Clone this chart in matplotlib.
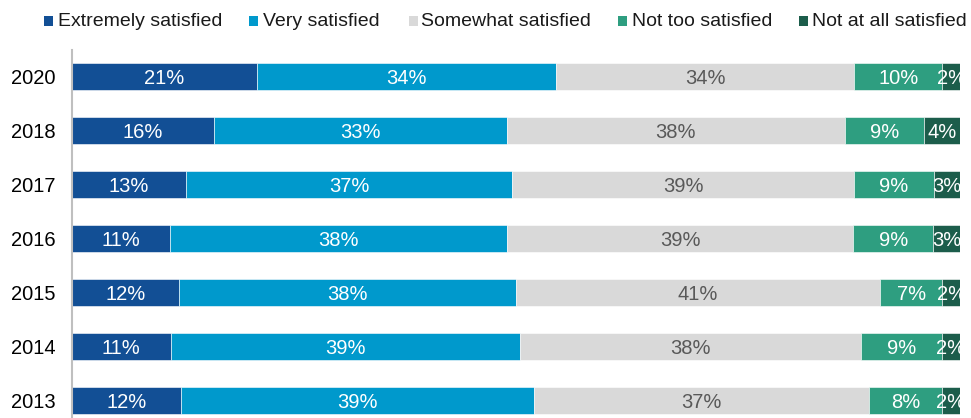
import matplotlib
matplotlib.use("Agg")
import matplotlib.pyplot as plt
from matplotlib.patches import Rectangle
import numpy as np

plt.rcParams['font.family'] = ['Liberation Sans', 'DejaVu Sans']

years = ["2020", "2018", "2017", "2016", "2015", "2014", "2013"]
series = ["Extremely satisfied", "Very satisfied", "Somewhat satisfied",
          "Not too satisfied", "Not at all satisfied"]
extremely = [21, 16, 13, 11, 12, 11, 12]
very = [34, 33, 37, 38, 38, 39, 39]
somewhat = [34, 38, 39, 39, 41, 38, 37]
not_too = [10, 9, 9, 9, 7, 9, 8]
not_at_all = [2, 4, 3, 3, 2, 2, 2]

colors = ["#124f95", "#0099cc", "#d9d9d9", "#2e9e80", "#1c5d4b"]
text_colors = ["white", "white", "#595959", "white", "white"]

data = np.array([extremely, very, somewhat, not_too, not_at_all], dtype=float)
totals = data.sum(axis=0)
norm = data / totals * 100.0

W, H = 971, 418
fig = plt.figure(figsize=(W / 100, H / 100), dpi=100)
ax_left, ax_right = 72 / W, 960 / W
ax_top = 1 - 50 / H
ax_h = 377 / H
ax = fig.add_axes([ax_left, ax_top - ax_h, ax_right - ax_left, ax_h])

y = np.arange(len(years))
left = np.zeros(len(years))
for i in range(len(series)):
    ax.barh(y, norm[i], left=left, height=0.5, color=colors[i],
            edgecolor="white", linewidth=0.4)
    for j in range(len(years)):
        ax.text(left[j] + norm[i, j] / 2, y[j], f"{int(data[i, j])}%",
                ha="center", va="center_baseline", fontsize=14.5,
                color=text_colors[i])
    left += norm[i]

ax.set_xlim(0, 100)
ax.set_ylim(len(years) - 0.5, -0.5)
ax.set_yticks(y)
ax.set_yticklabels(years, fontsize=14.5, va="center_baseline")
ax.tick_params(axis="y", length=0, pad=12)
ax.set_xticks([])
for s in ["top", "right", "bottom"]:
    ax.spines[s].set_visible(False)
ax.spines["left"].set_color("#bfbfbf")
ax.spines["left"].set_linewidth(1.5)

# legend
leg_x = [44, 249, 409, 618, 799]
leg_text_x = [58, 263, 421, 632, 812]
for i, name in enumerate(series):
    fig.patches.append(Rectangle((leg_x[i] / W, 1 - 26 / H),
                                 9 / W, 10 / H, transform=fig.transFigure,
                                 facecolor=colors[i], edgecolor="none"))
    fig.text(leg_text_x[i] / W, 1 - 26 / H, name, fontsize=14,
             ha="left", va="baseline", color="#1a1a1a")

fig.savefig("out.png", dpi=100)
